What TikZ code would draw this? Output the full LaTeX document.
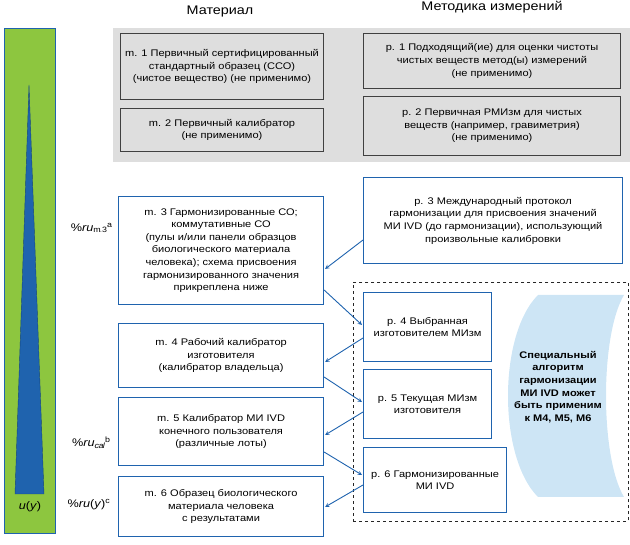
\documentclass[tikz,border=0pt]{standalone}
\usepackage{fontspec}
\setmainfont{Liberation Sans}[FakeStretch=1.15]
\usetikzlibrary{calc}
\definecolor{grn}{HTML}{8DC63F}
\definecolor{blu}{HTML}{1F63AE}
\definecolor{pnl}{HTML}{DEDEDE}
\definecolor{lb}{HTML}{CDE5F5}
\begin{document}
\begin{tikzpicture}[x=1pt,y=-1pt,
  txt/.style={font=\fontsize{9.6}{12.6}\selectfont,align=center,inner sep=1pt},
  lab/.style={font=\fontsize{11}{12}\selectfont,inner sep=0pt,anchor=east},
  gbox/.style={txt,draw=black!75,line width=1pt,fill=pnl,anchor=north west},
  bbox/.style={txt,draw=blu,line width=1.1pt,fill=white,anchor=north west},
  arr/.style={draw=blu,line width=0.9pt,-stealth}]
\useasboundingbox (0,0) rectangle (630,545);
% left bar
\node[draw=blu,fill=grn,line width=0.8pt,minimum width=51,minimum height=505,anchor=north west,inner sep=0] (bar) at (4,28) {};
\fill[blu,draw=blu!70!black] (29,85) -- (15,494) -- (44,494) -- cycle;
\node[txt,font=\fontsize{11}{12}\selectfont] (uy) at (30,507) {\textit{u}(\textit{y})};
\node[lab] (l1) at (112,228) {\%\textit{ru}$_{\mathrm{m.3}}{}^{\mathrm{a}}$};
\node[lab] (l2) at (110,443) {\%\textit{ru}$_{\mathit{cal}}{}^{\mathrm{b}}$};
\node[lab] (l3) at (110,505) {\%\textit{ru}(\textit{y})$^{\mathrm{c}}$};
% headers
\node[txt,font=\fontsize{12.5}{14}\selectfont] (h1) at (220,12) {Материал};
\node[txt,font=\fontsize{12.5}{14}\selectfont] (h2) at (492,7) {Методика измерений};
% gray panel
\node[fill=pnl,minimum width=517,minimum height=134,anchor=north west,inner sep=0] (panel) at (113,28) {};
\node[gbox,minimum width=203,minimum height=66] (m1) at (120,33) {m. 1 Первичный сертифицированный\\стандартный образец (ССО)\\(чистое вещество) (не применимо)};
\node[gbox,minimum width=203,minimum height=43] (m2) at (120,108) {m. 2 Первичный калибратор\\(не применимо)};
\node[gbox,minimum width=257,minimum height=55] (p1) at (363,33) {p. 1 Подходящий(ие) для оценки чистоты\\чистых веществ метод(ы) измерений\\(не применимо)};
\node[gbox,minimum width=257,minimum height=59] (p2) at (363,96) {p. 2 Первичная РМИзм для чистых\\веществ (например, гравиметрия)\\(не применимо)};
% dashed area
\node[draw=black!85,dashed,line width=0.9pt,minimum width=275,minimum height=239,anchor=north west,inner sep=0] (dash) at (353,282) {};
\fill[lb] (538,295) .. controls (498,335) and (498,457) .. (538,497) -- (624,497) .. controls (600,457) and (600,335) .. (624,295) -- cycle;
\node[txt,font=\fontsize{9.6}{12.6}\selectfont\bfseries] (alg) at (558,387) {Специальный\\алгоритм\\гармонизации\\МИ IVD может\\быть применим\\к М4, М5, М6};
% blue boxes
\node[bbox,minimum width=205,minimum height=108] (m3) at (118,196) {m. 3 Гармонизированные СО;\\коммутативные СО\\(пулы и/или панели образцов\\биологического материала\\человека); схема присвоения\\гармонизированного значения\\прикреплена ниже};
\node[bbox,minimum width=259,minimum height=86] (p3) at (363,177) {p. 3 Международный протокол\\гармонизации для присвоения значений\\МИ IVD (до гармонизации), использующий\\произвольные калибровки};
\node[bbox,minimum width=205,minimum height=64] (m4) at (118,323) {m. 4 Рабочий калибратор\\изготовителя\\(калибратор владельца)};
\node[bbox,minimum width=205,minimum height=68] (m5) at (118,397) {m. 5 Калибратор МИ IVD\\конечного пользователя\\(различные лоты)};
\node[bbox,minimum width=205,minimum height=60] (m6) at (118,476) {m. 6 Образец биологического\\материала человека\\с результатами};
\node[bbox,minimum width=128,minimum height=69] (p4) at (363,292) {p. 4 Выбранная\\изготовителем МИзм};
\node[bbox,minimum width=128,minimum height=69] (p5) at (363,369) {p. 5 Текущая МИзм\\изготовителя};
\node[bbox,minimum width=143,minimum height=65] (p6) at (363,447) {p. 6 Гармонизированные\\МИ IVD};
% arrows
\draw[arr] ($(p3.north west)+(0,63)$) -- ($(m3.north east)+(1,73)$);
\draw[arr] ($(m3.north east)+(0,94)$) -- ($(p4.north west)+(-1,33)$);
\draw[arr] ($(p4.north west)+(0,46)$) -- ($(m4.north east)+(1,39)$);
\draw[arr] ($(m4.north east)+(0,54)$) -- ($(p5.north west)+(-1,33)$);
\draw[arr] ($(p5.north west)+(0,43)$) -- ($(m5.north east)+(1,38)$);
\draw[arr] ($(m5.north east)+(0,55)$) -- ($(p6.north west)+(-1,28)$);
\draw[arr] ($(p6.north west)+(0,38)$) -- ($(m6.north east)+(1,31)$);
\end{tikzpicture}
\end{document}
